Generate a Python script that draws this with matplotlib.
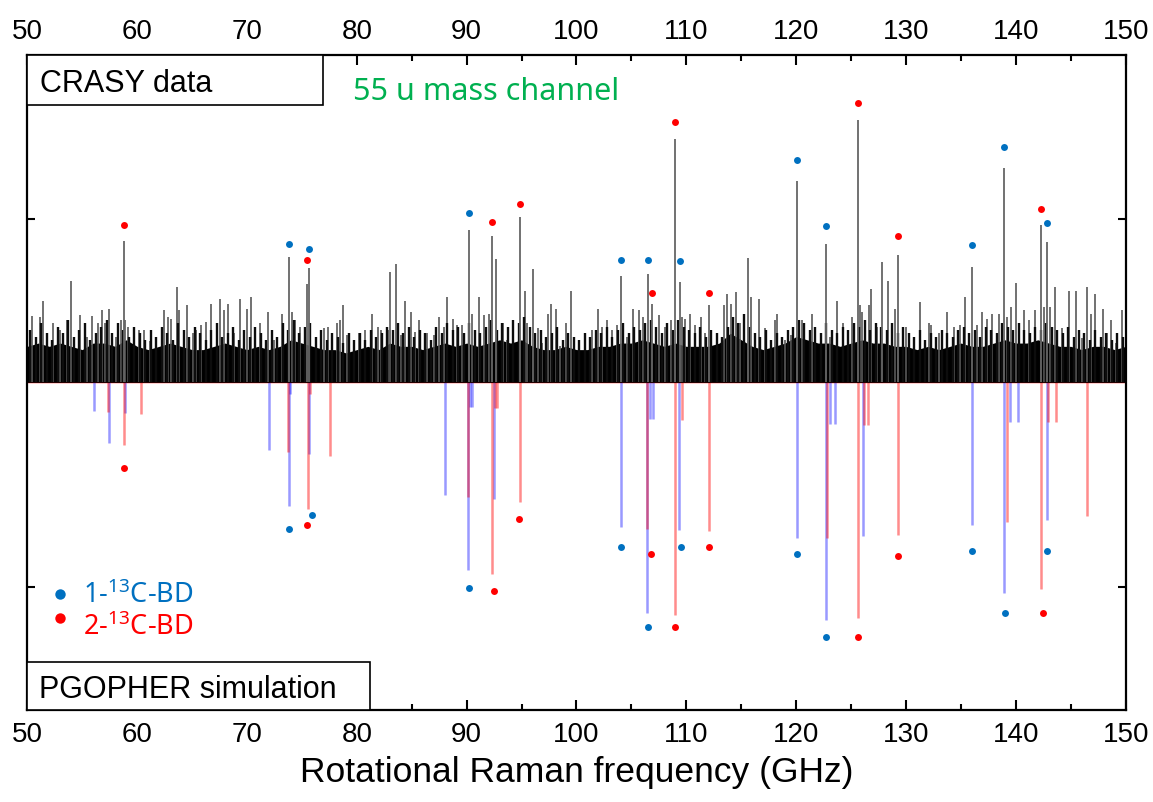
import matplotlib.pyplot as plt
from matplotlib.patches import Rectangle
import numpy as np

plt.rcParams['font.family'] = ['Liberation Sans', 'DejaVu Sans']

# CRASY data: assigned peaks (GHz, height)
peak_freq = [58.83, 73.83, 75.45, 75.68, 90.17, 92.35, 92.66, 94.84, 96.0, 104.04, 106.5,
             106.87, 108.96, 109.44, 112.02, 115.57, 120.04, 122.74, 125.62, 127.8,
             129.27, 135.98, 138.93, 142.26, 142.84]
peak_height = [0.433, 0.384, 0.30, 0.348, 0.465, 0.448, 0.378, 0.504, 0.346, 0.324, 0.33,
               0.24, 0.743, 0.306, 0.237, 0.38, 0.614, 0.4225, 0.801, 0.367,
               0.389, 0.353, 0.656, 0.4815, 0.429]

# CRASY data: unassigned spikes (GHz, height)
spike_freq = [50.4, 51.2, 51.4, 52.3, 53.0, 53.6, 54.0, 54.8, 55.4, 55.9, 56.4, 56.8, 57.1,
              57.4, 57.7, 58.1, 58.5, 58.9, 59.2, 59.7, 60.2, 60.6, 61.2, 61.7, 62.4, 62.8,
              63.1, 63.6, 63.8, 64.5, 65.1, 65.4, 65.8, 66.3, 66.7, 67.5, 67.9, 68.3, 68.8,
              69.4, 70.0, 70.4, 70.7, 71.2, 71.9, 72.5, 73.2, 74.1, 74.4, 74.8, 76.7, 77.0,
              77.4, 77.7, 78.2, 78.5, 78.7, 79.1, 79.7, 80.2, 80.7, 81.4, 81.9, 82.2, 82.8,
              83.0, 83.6, 84.0, 84.4, 84.9, 85.3, 85.7, 86.4, 87.0, 87.5, 87.9, 88.2, 88.8,
              89.1, 89.6, 90.5, 91.1, 91.6, 92.0, 93.3, 93.7, 94.2, 95.3, 95.5, 96.5, 96.85,
              97.4, 97.7, 98.1, 98.5, 99.0, 99.5, 100.8, 101.4, 102.0, 102.3, 102.8, 103.2,
              103.7, 104.6, 105.1, 105.7, 106.1, 107.5, 108.1, 108.6, 109.6, 109.9, 110.3,
              110.8, 111.3, 111.7, 112.8, 113.4, 113.7, 114.1, 114.5, 114.9, 115.9, 116.6,
              117.2, 118.1, 118.3, 119.0, 119.5, 120.5, 121.4, 121.7, 123.1, 123.7, 124.3,
              125.1, 125.8, 126.0, 126.6, 126.8, 127.4, 128.4, 128.7, 129.0, 130.0, 131.3,
              132.1, 132.3, 133.0, 133.7, 134.4, 134.9, 135.4, 136.5, 136.9, 137.4, 137.8,
              138.5, 139.2, 139.6, 140.0, 140.7, 141.2, 141.7, 142.6, 143.1, 143.6, 144.2,
              144.8, 145.5, 146.0, 146.5, 146.8, 147.2, 147.9, 148.3, 148.7, 149.1, 149.7]
spike_height = [0.204, 0.20, 0.25, 0.18, 0.16, 0.19, 0.31, 0.205, 0.14, 0.204, 0.18, 0.22, 0.18,
                0.225, 0.135, 0.14, 0.19, 0.19, 0.17, 0.16, 0.16, 0.16, 0.125, 0.14, 0.22, 0.20,
                0.195, 0.29, 0.22, 0.235, 0.15, 0.16, 0.175, 0.185, 0.24, 0.255, 0.22, 0.24, 0.15,
                0.255, 0.225, 0.26, 0.165, 0.18, 0.215, 0.13, 0.21, 0.215, 0.19, 0.17, 0.15, 0.165,
                0.17, 0.14, 0.18, 0.19, 0.235, 0.145, 0.11, 0.15, 0.16, 0.21, 0.17, 0.16, 0.16,
                0.336, 0.36, 0.145, 0.25, 0.215, 0.155, 0.19, 0.15, 0.145, 0.20, 0.17, 0.26, 0.195,
                0.175, 0.175, 0.21, 0.26, 0.205, 0.21, 0.18, 0.13, 0.19, 0.28, 0.18, 0.165, 0.12,
                0.21, 0.24, 0.225, 0.11, 0.18, 0.28, 0.145, 0.16, 0.225, 0.17, 0.19, 0.16,
                0.175, 0.14, 0.225, 0.22, 0.20, 0.205, 0.17, 0.19, 0.20, 0.195, 0.21,
                0.175, 0.20, 0.15, 0.15, 0.235, 0.27, 0.24, 0.275, 0.18, 0.26, 0.255,
                0.165, 0.19, 0.21, 0.13, 0.145, 0.19, 0.21, 0.15, 0.14, 0.25, 0.18,
                0.20, 0.235, 0.215, 0.235, 0.285, 0.17, 0.31, 0.18, 0.225, 0.17, 0.245,
                0.18, 0.175, 0.15, 0.215, 0.17, 0.175, 0.26, 0.175, 0.215, 0.195, 0.21,
                0.21, 0.20, 0.23, 0.305, 0.22, 0.19, 0.22, 0.23, 0.23, 0.29, 0.165,
                0.28, 0.28, 0.135, 0.29, 0.21, 0.27, 0.225, 0.15, 0.19, 0.12, 0.22]

# CRASY data: dense forest of small lines, 0.5 GHz steps from 50.25 to 149.75
forest_freq = np.arange(50.25, 150, 0.5)
forest_height = [
    0.16, 0.14, 0.18, 0.15, 0.13, 0.17, 0.15, 0.19, 0.14, 0.16, 0.18, 0.13, 0.15, 0.17, 0.19, 0.15, 0.18, 0.16, 0.14, 0.17,
    0.15, 0.13, 0.16, 0.14, 0.17, 0.15, 0.13, 0.18, 0.16, 0.14, 0.17, 0.15, 0.13, 0.16, 0.18, 0.14, 0.15, 0.17, 0.13, 0.16,
    0.14, 0.17, 0.15, 0.13, 0.16, 0.14, 0.18, 0.16, 0.19, 0.15, 0.17, 0.18, 0.14, 0.16, 0.13, 0.15, 0.14, 0.12, 0.15, 0.13,
    0.15, 0.13, 0.16, 0.14, 0.15, 0.17, 0.16, 0.18, 0.15, 0.17, 0.14, 0.16, 0.15, 0.13, 0.17, 0.15, 0.18, 0.16, 0.17, 0.15,
    0.18, 0.16, 0.15, 0.17, 0.19, 0.16, 0.18, 0.17, 0.19, 0.18, 0.20, 0.17, 0.15, 0.16, 0.14, 0.15, 0.17, 0.13, 0.15, 0.14,
    0.13, 0.15, 0.14, 0.16, 0.15, 0.17, 0.14, 0.16, 0.18, 0.15, 0.17, 0.16, 0.18, 0.19, 0.17, 0.15, 0.18, 0.16, 0.19, 0.17,
    0.16, 0.15, 0.17, 0.14, 0.16, 0.15, 0.14, 0.17, 0.20, 0.18, 0.21, 0.17, 0.15, 0.14, 0.16, 0.13, 0.15, 0.14, 0.16, 0.17,
    0.19, 0.18, 0.16, 0.17, 0.15, 0.18, 0.16, 0.15, 0.17, 0.16, 0.18, 0.17, 0.19, 0.16, 0.18, 0.17, 0.16, 0.18, 0.15, 0.17,
    0.15, 0.14, 0.16, 0.13, 0.15, 0.14, 0.16, 0.15, 0.14, 0.16, 0.17, 0.15, 0.16, 0.14, 0.17, 0.16, 0.15, 0.18, 0.17, 0.16,
    0.18, 0.16, 0.15, 0.17, 0.16, 0.18, 0.17, 0.16, 0.15, 0.17, 0.14, 0.16, 0.15, 0.13, 0.16, 0.14, 0.15, 0.13, 0.15, 0.14]

# CRASY data: solid noise floor, 1 GHz steps from 50 to 150
floor_freq = np.arange(50, 151, 1)
floor_height = [0.11, 0.12, 0.11, 0.12, 0.11, 0.10, 0.12, 0.12, 0.11, 0.13,
                0.11, 0.10, 0.11, 0.12, 0.11, 0.10, 0.10, 0.11, 0.12, 0.11,
                0.10, 0.11, 0.10, 0.11, 0.13, 0.12, 0.11, 0.10, 0.10, 0.09,
                0.10, 0.11, 0.10, 0.12, 0.11, 0.11, 0.10, 0.11, 0.12, 0.11,
                0.12, 0.11, 0.12, 0.13, 0.12, 0.13, 0.11, 0.10, 0.10, 0.11,
                0.10, 0.10, 0.11, 0.11, 0.12, 0.12, 0.13, 0.12, 0.11, 0.12,
                0.11, 0.11, 0.11, 0.12, 0.15, 0.13, 0.11, 0.10, 0.11, 0.12,
                0.14, 0.13, 0.12, 0.12, 0.11, 0.12, 0.13, 0.12, 0.12, 0.11,
                0.11, 0.10, 0.11, 0.10, 0.11, 0.12, 0.11, 0.11, 0.12, 0.13,
                0.12, 0.12, 0.13, 0.12, 0.11, 0.11, 0.10, 0.11, 0.11, 0.10, 0.11]

# markers above the CRASY peaks
crasy_blue_freq = [73.83, 75.68, 90.17, 104.04, 106.5, 109.44, 120.04, 122.74, 135.98, 138.93, 142.84]
crasy_blue_y = [0.423, 0.406, 0.516, 0.374, 0.374, 0.37, 0.678, 0.4775, 0.42, 0.72, 0.486]
crasy_red_freq = [58.83, 75.45, 92.35, 94.84, 106.87, 108.96, 112.02, 125.62, 129.27, 142.26]
crasy_red_y = [0.48, 0.374, 0.49, 0.545, 0.272, 0.795, 0.272, 0.854, 0.446, 0.53]

# PGOPHER simulation sticks
sim_blue_freq = [56.05, 57.44, 58.85, 72.04, 73.81, 73.9, 75.68, 88.07, 90.14, 90.3, 90.45,
                 92.5, 104.04, 106.41, 106.71, 107.01, 109.32, 120.04, 122.74, 123.1, 123.56,
                 126.07, 136.0, 138.93, 139.5, 140.17, 142.84]
sim_blue_int = [-0.087, -0.185, -0.094, -0.206, -0.377, -0.036, -0.219, -0.344, -0.574, -0.074, -0.074,
                -0.356, -0.443, -0.705, -0.112, -0.112, -0.451, -0.476, -0.725, -0.127, -0.127,
                -0.468, -0.435, -0.644, -0.122, -0.122, -0.42]
sim_red_freq = [57.38, 58.81, 60.36, 73.75, 75.59, 75.7, 77.57, 90.11, 92.32, 92.6, 92.8,
                94.84, 106.44, 108.96, 109.63, 112.05, 122.83, 125.65, 126.16, 126.56, 129.27,
                139.17, 142.26, 142.9, 143.62, 146.48]
sim_red_int = [-0.09, -0.19, -0.097, -0.212, -0.387, -0.036, -0.226, -0.349, -0.585, -0.079, -0.079,
               -0.365, -0.448, -0.71, -0.115, -0.455, -0.474, -0.721, -0.13, -0.13, -0.466,
               -0.428, -0.631, -0.12, -0.12, -0.409]

# markers below the simulated lines
sim_blue_mfreq = [73.83, 75.9, 90.17, 104.04, 106.5, 109.54, 120.04, 122.74, 135.98, 139.02, 142.84]
sim_blue_my = [-0.448, -0.404, -0.628, -0.503, -0.748, -0.503, -0.525, -0.779, -0.516, -0.704, -0.514]
sim_red_mfreq = [58.81, 75.5, 92.47, 94.81, 106.74, 108.96, 112.02, 125.62, 129.27, 142.44]
sim_red_my = [-0.261, -0.435, -0.637, -0.417, -0.525, -0.748, -0.503, -0.779, -0.53, -0.704]

blue = '#0070C0'
red = '#FF0000'

fig = plt.figure(figsize=(11.53, 8.03), dpi=100)
ax = fig.add_axes([0.02368, 0.1149, 0.95262, 0.8154])

# simulation (drawn first, below)
ax.axhline(0, color=red, lw=1.0, zorder=1)
ax.vlines(sim_blue_freq, 0, sim_blue_int, color='blue', alpha=0.4, lw=1.8, zorder=2)
ax.vlines(sim_red_freq, 0, sim_red_int, color='red', alpha=0.45, lw=1.8, zorder=2)

# CRASY spectrum
ax.fill_between(floor_freq, 0, floor_height, color='black', lw=0, zorder=3)
ax.vlines(spike_freq, 0, spike_height, color='0.35', lw=1.2, zorder=3)
ax.vlines(forest_freq, 0, forest_height, color='0.05', lw=1.7, zorder=3)
ax.vlines(peak_freq, 0, peak_height, color='0.4', lw=1.3, zorder=3)

ax.plot(crasy_blue_freq, crasy_blue_y, 'o', color=blue, ms=5, mec='none', zorder=4)
ax.plot(crasy_red_freq, crasy_red_y, 'o', color=red, ms=5, mec='none', zorder=4)
ax.plot(sim_blue_mfreq, sim_blue_my, 'o', color=blue, ms=5, mec='none', zorder=4)
ax.plot(sim_red_mfreq, sim_red_my, 'o', color=red, ms=5, mec='none', zorder=4)

ax.set_xlim(50, 150)
ax.set_ylim(-1, 1)
ax.set_xticks(np.arange(50, 151, 10))
ax.set_xticks(np.arange(55, 150, 10), minor=True)
ax.set_yticks([-0.625, 0.5])
ax.set_yticklabels([])
ax.tick_params(axis='x', which='both', direction='in', top=True, labeltop=True,
               labelsize=20, width=1.5, pad=8)
ax.tick_params(axis='x', which='major', length=7.5)
ax.tick_params(axis='x', which='minor', length=4.5)
ax.tick_params(axis='y', direction='in', left=True, right=True, length=6, width=1.5)
for s in ax.spines.values():
    s.set_linewidth(1.6)

ax.set_xlabel('Rotational Raman frequency (GHz)', fontsize=25.5, labelpad=6)

# label boxes
ax.add_patch(Rectangle((0, 0.9236), 0.269, 0.0764, transform=ax.transAxes,
                       fc='white', ec='black', lw=1.2, zorder=5))
ax.text(0.0116, 0.9457, 'CRASY data', transform=ax.transAxes, fontsize=22,
        va='baseline', zorder=6)
ax.add_patch(Rectangle((0, 0), 0.312, 0.0729, transform=ax.transAxes,
                       fc='white', ec='black', lw=1.2, zorder=5))
ax.text(0.011, 0.0189, 'PGOPHER simulation', transform=ax.transAxes, fontsize=22,
        va='baseline', zorder=6)

ax.text(0.2963, 0.9328, '55 u mass channel', transform=ax.transAxes, fontsize=22,
        color='#00B050', family=['Noto Sans', 'DejaVu Sans'], va='baseline')

# legend
plt.rcParams['mathtext.default'] = 'regular'
ax.plot([0.0302], [0.1768], 'o', color=blue, ms=7.5, mec='none', transform=ax.transAxes)
ax.plot([0.0302], [0.1397], 'o', color=red, ms=7.5, mec='none', transform=ax.transAxes)
ax.text(0.051, 0.164, '1-$^{13}$C-BD', transform=ax.transAxes, fontsize=19.5, color=blue,
        family=['Noto Sans', 'DejaVu Sans'], va='baseline')
ax.text(0.051, 0.1156, '2-$^{13}$C-BD', transform=ax.transAxes, fontsize=19.5, color=red,
        family=['Noto Sans', 'DejaVu Sans'], va='baseline')

fig.savefig('out.png', dpi=100)
